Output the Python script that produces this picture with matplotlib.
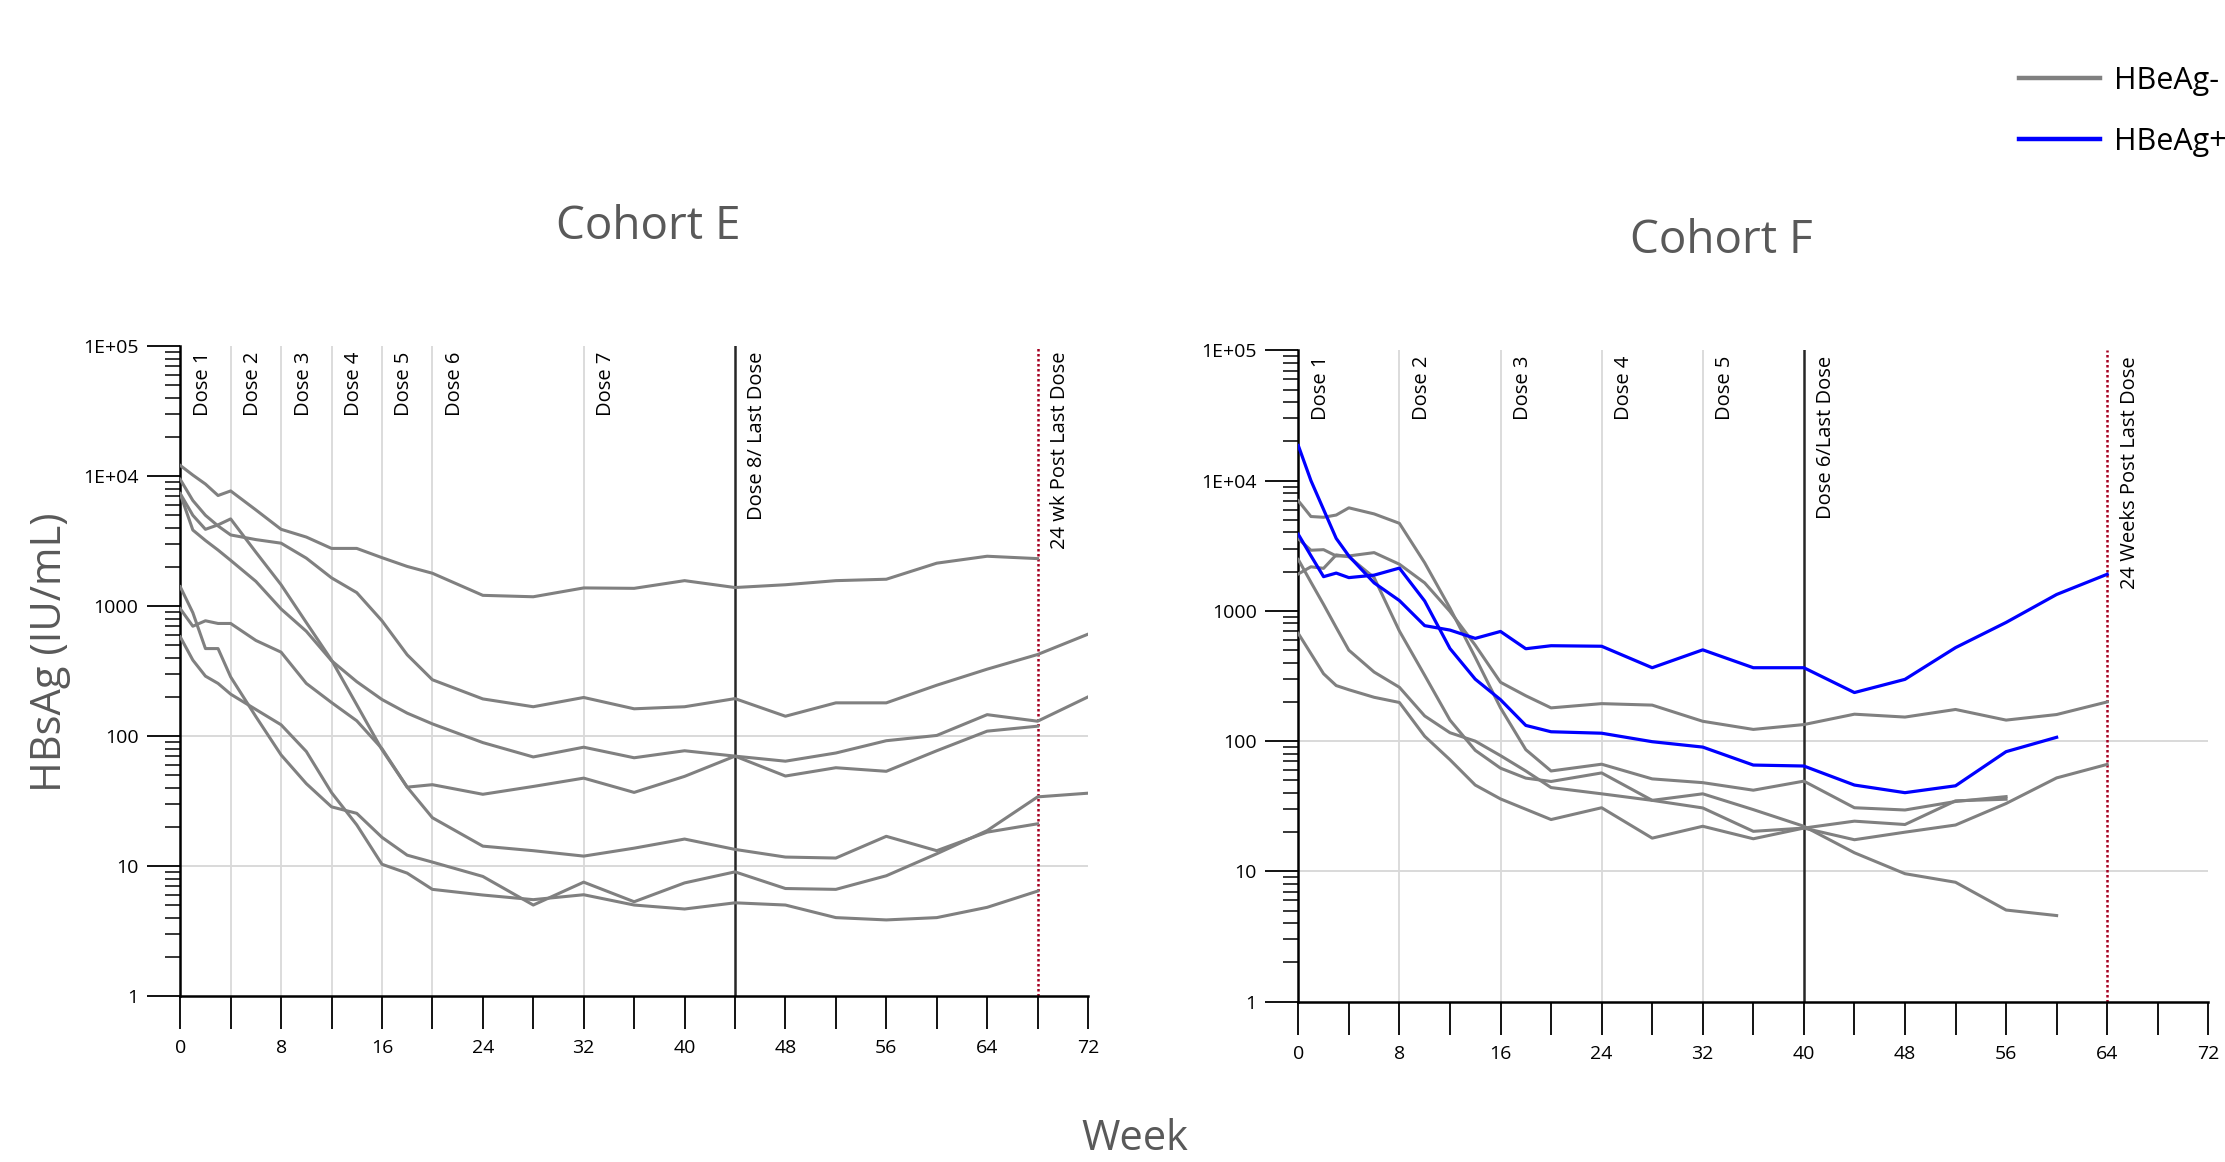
"""HBsAg over time by cohort, HBeAg- (gray) and HBeAg+ (blue) subjects."""

import matplotlib

matplotlib.use("Agg")
import matplotlib.pyplot as plt
import numpy as np
from matplotlib.ticker import LogLocator, NullFormatter

plt.rcParams["font.family"] = ["Open Sans", "DejaVu Sans"]

nan = np.nan

# ---- Cohort E (all HBeAg-) ----
weeks_e = [0, 1, 2, 3, 4, 6, 8, 10, 12, 14, 16, 18, 20, 24, 28, 32, 36, 40, 44, 48, 52, 56, 60, 64, 68, 72]
e_subj1 = [12100, 10200, 8700, 7100, 7700, 5500, 3900, 3400, 2780, 2780, 2360, 2020, 1790, 1210, 1180, 1380,
           1370, 1570, 1390, 1460, 1570, 1610, 2140, 2420, 2320, nan]
e_subj2 = [9450, 6500, 5000, 4140, 3530, 3250, 3050, 2340, 1650, 1270, 771, 422, 271, 193, 168, 198,
           162, 168, 194, 142, 180, 180, 246, 327, 424, 608]
e_subj3 = [7300, 3850, 3200, 2700, 2250, 1550, 950, 640, 380, 262, 191, 150, 124, 89, 69, 82,
           68, 77, 70, 64, 74, 92, 101, 146, 130, 200]
e_subj4 = [955, 700, 771, 735, 735, 544, 442, 254, 181, 131, 80, 40.4, 42.2, 35.6, 40.9, 47.4,
           36.8, 48.9, 70, 49.2, 57, 53.5, 77, 109, 119, nan]
e_subj5 = [7350, 5000, 3900, 4220, 4690, 2600, 1460, 747, 384, 174, 78.5, 40.4, 23.5, 14.2, 13.1, 11.9,
           13.7, 16.1, 13.4, 11.7, 11.5, 16.9, 13.1, 18.2, 21.1, nan]
e_subj6 = [1410, 890, 471, 471, 285, 141, 71.5, 43, 28.5, 25.4, 16.6, 12.1, 10.7, 8.3, 5.0, 7.5,
           5.3, 7.4, 9.0, 6.7, 6.6, 8.4, 12.4, 18.7, 34, 36.3]
e_subj7 = [580, 384, 289, 254, 210, 160, 122, 76, 36.7, 20.7, 10.3, 8.8, 6.6, 5.97, 5.5, 6.0,
           5.0, 4.66, 5.2, 5.0, 4.0, 3.84, 4.0, 4.8, 6.4, nan]
cohort_e_neg = [e_subj1, e_subj2, e_subj3, e_subj4, e_subj5, e_subj6, e_subj7]

# ---- Cohort F ----
weeks_f = [0, 1, 2, 3, 4, 6, 8, 10, 12, 14, 16, 18, 20, 24, 28, 32, 36, 40, 44, 48, 52, 56, 60, 64]
f_neg1 = [3570, 2920, 2950, 2640, 2640, 2800, 2280, 1640, 990, 545, 283, 223, 180, 194, 189, 142,
          123, 134, 161, 153, 175, 145, 160, 200]
f_neg2 = [7000, 5300, 5230, 5440, 6180, 5550, 4700, 2340, 1050, 440, 180, 86, 59, 66.5, 51.3, 48,
          42, 49.3, 30.8, 29.6, 34.4, 37.5, nan, nan]
f_neg3 = [1920, 2180, 2120, 2690, 2600, 1800, 700, 320, 145, 85, 62, 52, 49, 57, 35.1, 39.4,
          29.8, 22.2, 13.9, 9.6, 8.25, 5.05, 4.58, nan]
f_neg4 = [2480, 1660, 1120, 745, 499, 339, 259, 156, 116, 100, 77.4, 59, 44, 39.4, 35.1, 30.7,
          20.3, 21.5, 17.5, 20.0, 22.7, 33.2, 52.2, 66.3]
f_neg5 = [671, 470, 329, 267, 248, 217, 198, 109, 72, 46, 36, 30, 25, 30.8, 18, 22.2,
          17.8, 21.5, 24.3, 22.9, 34.8, 35.8, nan, nan]
f_pos1 = [18600, 10000, 6000, 3600, 2640, 1640, 1200, 770, 712, 615, 695, 512, 540, 535, 366, 502,
          366, 366, 236, 298, 522, 815, 1336, 1910]
f_pos2 = [3870, 2650, 1830, 1950, 1800, 1880, 2130, 1190, 514, 299, 208, 132, 118, 115, 99, 90,
          65.5, 64.4, 46, 40.2, 45.4, 83, 107, nan]
cohort_f_neg = [f_neg1, f_neg2, f_neg3, f_neg4, f_neg5]
cohort_f_pos = [f_pos1, f_pos2]

# ---- dosing annotations ----
dose_weeks_e = [0, 4, 8, 12, 16, 20, 32]
dose_labels_e = ["Dose 1", "Dose 2", "Dose 3", "Dose 4", "Dose 5", "Dose 6", "Dose 7"]
last_dose_e = (44, "Dose 8/ Last Dose")
followup_e = (68, "24 wk Post Last Dose")

dose_weeks_f = [0, 8, 16, 24, 32]
dose_labels_f = ["Dose 1", "Dose 2", "Dose 3", "Dose 4", "Dose 5"]
last_dose_f = (40, "Dose 6/Last Dose")
followup_f = (64, "24 Weeks Post Last Dose")

y_ticks = [1, 10, 100, 1000, 1e4, 1e5]
y_tick_labels = ["1", "10", "100", "1000", "1E+04", "1E+05"]
x_ticks = list(range(0, 73, 4))

NEG_COLOR = "#808080"
POS_COLOR = "#0000ff"
TEXT_GRAY = "#595959"


def _style_axes(ax):
    ax.set_yscale("log")
    ax.set_xlim(0, 72)
    ax.set_ylim(1, 1e5)
    for side in ("top", "right"):
        ax.spines[side].set_visible(False)
    for side in ("left", "bottom"):
        ax.spines[side].set_linewidth(1.8)
        ax.spines[side].set_color("black")
    ax.set_xticks(x_ticks)
    ax.set_xticklabels([str(w) if w % 8 == 0 else "" for w in x_ticks])
    ax.set_yticks(y_ticks)
    ax.set_yticklabels(y_tick_labels)
    ax.yaxis.set_minor_locator(LogLocator(base=10, subs=np.arange(2, 10)))
    ax.yaxis.set_minor_formatter(NullFormatter())
    ax.tick_params(axis="x", which="major", direction="out", length=24, width=1.3, pad=7, labelsize=14)
    ax.tick_params(axis="y", which="major", direction="out", length=24, width=1.3, pad=6, labelsize=14)
    ax.tick_params(axis="y", which="minor", direction="out", length=11, width=1.1)
    for level in (10, 100):
        ax.axhline(level, color="#d0d0d0", linewidth=1.1, zorder=0)


def _label_line(ax, week, label):
    ax.annotate(label, xy=(week, 1), xycoords=("data", "axes fraction"), xytext=(9, -4),
                textcoords="offset points", rotation=90, ha="left", va="top", fontsize=14.5)


def _draw_doses(ax, dose_weeks, dose_labels, last_dose, followup):
    for week, label in zip(dose_weeks, dose_labels):
        if week > 0:
            ax.axvline(week, color="#d9d9d9", linewidth=1.3, zorder=0)
        _label_line(ax, week, label)
    week, label = last_dose
    ax.axvline(week, color="#262626", linewidth=1.8, zorder=1)
    _label_line(ax, week, label)
    week, label = followup
    ax.axvline(week, color="#a50021", linewidth=1.8, linestyle=(0, (1, 1)), zorder=1)
    _label_line(ax, week, label)


fig = plt.figure(figsize=(22.25, 11.62), dpi=100)
ax_e = fig.add_axes([0.081, 0.143, 0.408, 0.559])
ax_f = fig.add_axes([0.5835, 0.138, 0.409, 0.5605])

for ax in (ax_e, ax_f):
    _style_axes(ax)

_draw_doses(ax_e, dose_weeks_e, dose_labels_e, last_dose_e, followup_e)
_draw_doses(ax_f, dose_weeks_f, dose_labels_f, last_dose_f, followup_f)

for series in cohort_e_neg:
    ax_e.plot(weeks_e, series, color=NEG_COLOR, linewidth=2.2, zorder=3)

neg_handle = None
for series in cohort_f_neg:
    (neg_handle,) = ax_f.plot(weeks_f, series, color=NEG_COLOR, linewidth=2.2, zorder=3)
pos_handle = None
for series in cohort_f_pos:
    (pos_handle,) = ax_f.plot(weeks_f, series, color=POS_COLOR, linewidth=2.3, zorder=4)

fig.text(648.5 / 2225, 1 - 227 / 1162, "Cohort E", ha="center", va="center", fontsize=33, color=TEXT_GRAY)
fig.text(1721 / 2225, 1 - 241 / 1162, "Cohort F", ha="center", va="center", fontsize=33, color=TEXT_GRAY)
fig.text(50 / 2225, 1 - 652 / 1162, "HBsAg (IU/mL)", rotation=90, ha="center", va="center",
         fontsize=30, color=TEXT_GRAY)
fig.text(1135 / 2225, 0.002, "Week", ha="center", va="bottom", fontsize=30, color=TEXT_GRAY)

leg = fig.legend(handles=[neg_handle, pos_handle], labels=["HBeAg-", "HBeAg+"], loc="upper left",
                 bbox_to_anchor=(2019 / 2225, 1 - 66 / 1162), frameon=False, fontsize=22,
                 handlelength=2.65, handletextpad=0.46, labelspacing=1.0, borderpad=0, borderaxespad=0)
for line in leg.get_lines():
    line.set_linewidth(3.2)

fig.savefig("out.png", dpi=100)
plt.close(fig)
